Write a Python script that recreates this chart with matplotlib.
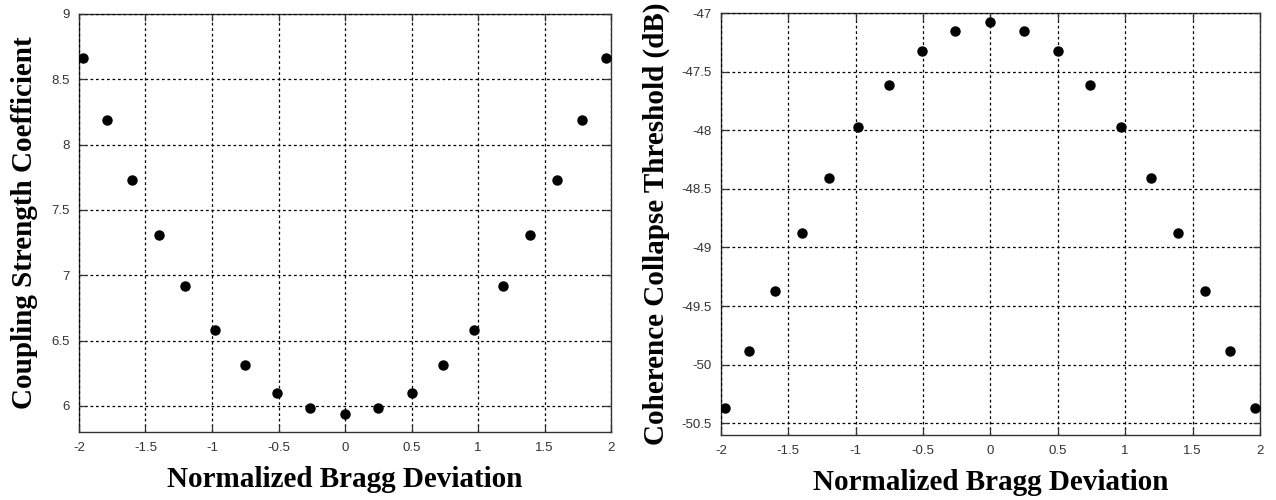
import matplotlib
matplotlib.use("Agg")
import matplotlib.pyplot as plt

plt.rcParams['axes.unicode_minus'] = False

bragg_dev = [-1.97, -1.79, -1.60, -1.40, -1.20, -0.98, -0.75, -0.51, -0.26, 0.0,
             0.25, 0.50, 0.74, 0.97, 1.19, 1.39, 1.59, 1.78, 1.96]
coupling = [8.66, 8.19, 7.73, 7.31, 6.92, 6.58, 6.31, 6.10, 5.98, 5.94,
            5.98, 6.10, 6.31, 6.58, 6.92, 7.31, 7.73, 8.19, 8.66]
threshold = [-50.37, -49.88, -49.37, -48.88, -48.41, -47.97, -47.61, -47.32, -47.15, -47.08,
             -47.15, -47.32, -47.61, -47.97, -48.41, -48.88, -49.37, -49.88, -50.37]

xticks = [-2, -1.5, -1, -0.5, 0, 0.5, 1, 1.5, 2]
xticklabels = ['-2', '-1.5', '-1', '-0.5', '0', '0.5', '1', '1.5', '2']
yticks_left = [6, 6.5, 7, 7.5, 8, 8.5, 9]
yticklabels_left = ['6', '6.5', '7', '7.5', '8', '8.5', '9']
yticks_right = [-50.5, -50, -49.5, -49, -48.5, -48, -47.5, -47]
yticklabels_right = ['-50.5', '-50', '-49.5', '-49', '-48.5', '-48', '-47.5', '-47']

xlabel = 'Normalized Bragg Deviation'
ylabel_left = 'Coupling Strength Coefficient'
ylabel_right = 'Coherence Collapse Threshold (dB)'

fig = plt.figure(figsize=(12.76, 5.0), dpi=100)
ax1 = fig.add_axes([0.0619, 0.136, 0.417, 0.836])
ax2 = fig.add_axes([0.565, 0.130, 0.4224, 0.844])

label_font = dict(family='Liberation Serif', fontweight='bold', fontsize=21)

def style(ax, yticks, yticklabels, ylim, ylabel, ylpad):
    ax.set_xlim(-2, 2)
    ax.set_ylim(*ylim)
    ax.set_xticks(xticks)
    ax.set_xticklabels(xticklabels)
    ax.set_yticks(yticks)
    ax.set_yticklabels(yticklabels)
    ax.grid(True, color='black', linestyle=(0, (2.2, 2.2)), linewidth=0.9)
    ax.tick_params(direction='in', length=5, width=0.9, top=True, right=True,
                   labelsize=9.5, labelcolor='#333333', colors='#333333', pad=7)
    for lab in ax.get_xticklabels() + ax.get_yticklabels():
        lab.set_family('Liberation Sans')
    for s in ax.spines.values():
        s.set_linewidth(1.0)
        s.set_color('#333333')
    ax.set_xlabel(xlabel, labelpad=9, **label_font)
    ax.set_ylabel(ylabel, labelpad=ylpad, **label_font)
    ax.set_axisbelow(False)

ax1.plot(bragg_dev, coupling, 'o', color='black', markersize=6.5, zorder=5)
style(ax1, yticks_left, yticklabels_left, (5.8, 9), ylabel_left, 9)

ax2.plot(bragg_dev, threshold, 'o', color='black', markersize=6.5, zorder=5)
style(ax2, yticks_right, yticklabels_right, (-50.6, -47), ylabel_right, 8)

fig.savefig('out.png', dpi=100)
